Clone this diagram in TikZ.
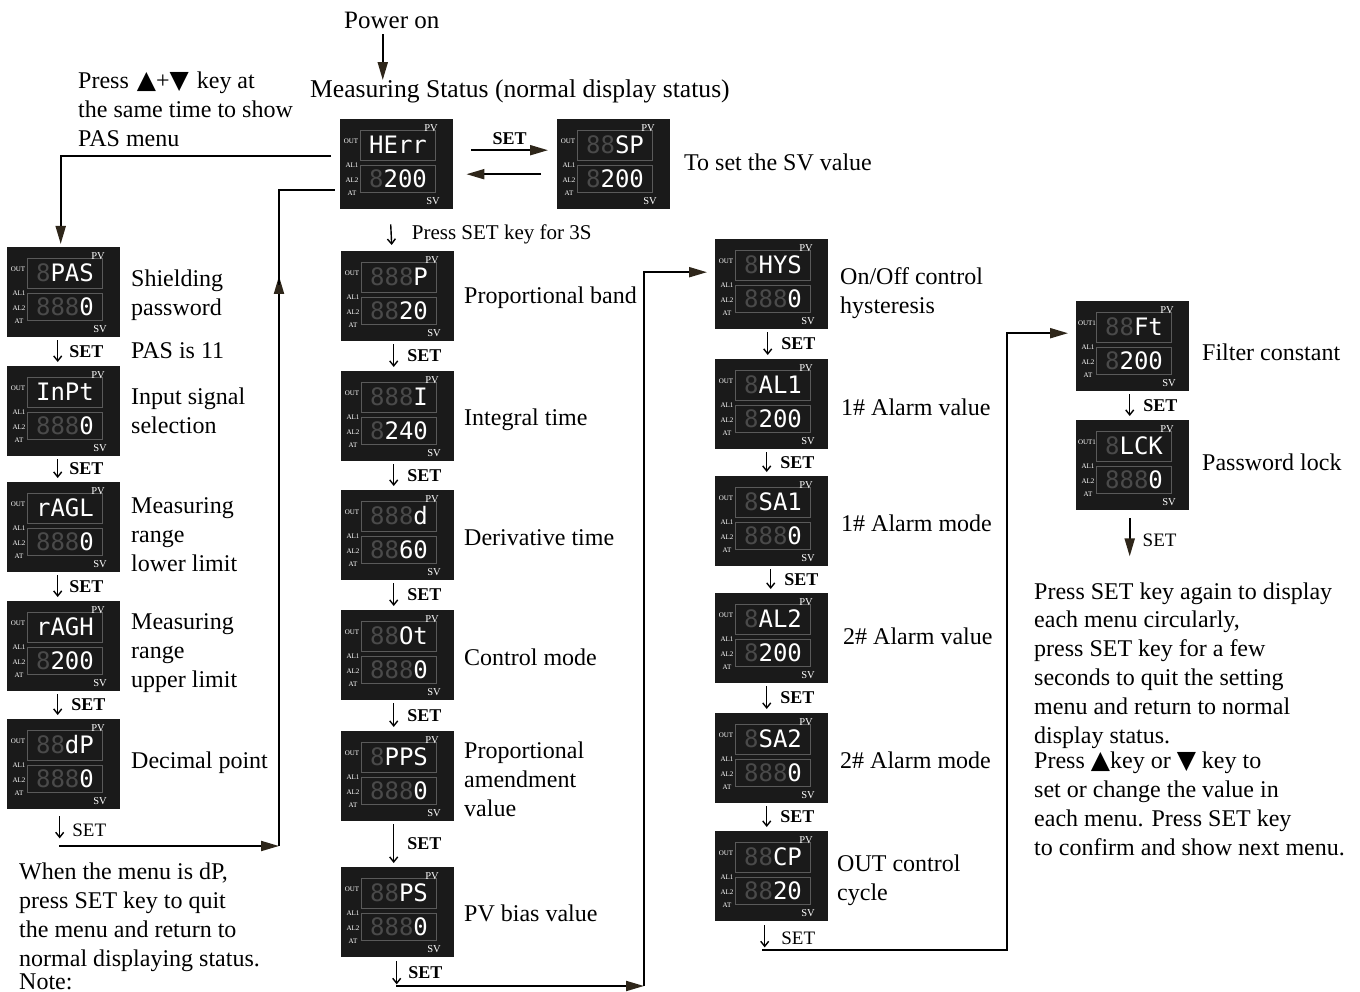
\documentclass[tikz,border=0pt]{standalone}
\usepackage{fontspec}
\setmainfont{Liberation Serif}
\newfontfamily\symf{DejaVu Sans}
\newfontfamily\segf{DejaVu Sans Mono}
\usetikzlibrary{arrows.meta}
\definecolor{dimc}{HTML}{4A4A4A}
\definecolor{boxc}{HTML}{1A1A1A}
\definecolor{framec}{HTML}{5A5A5A}
\definecolor{tipc}{HTML}{2E261A}
\newcommand\dm[1]{\textcolor{dimc}{#1}}
\newcommand\tri[1]{{\symf\fontsize{25}{29}\selectfont #1}}
\tikzset{
 dispbox/.style={fill=boxc, minimum width=113pt, minimum height=90pt, inner sep=0pt, anchor=north west, draw=none},
 segframe/.style={draw=framec, line width=0.7pt},
 seg/.style={font=\segf\fontsize{24}{24}\selectfont, text=white, inner sep=0pt, text height=17pt, text depth=0pt},
 tinyl/.style={font=\fontsize{7}{7}\selectfont, text=white, inner sep=0pt},
 pvsv/.style={font=\fontsize{10.5}{10.5}\selectfont, text=white, inner sep=0pt},
 lab/.style={font=\fontsize{24}{29}\selectfont, align=left, anchor=base west, inner sep=0pt},
 setb/.style={font=\bfseries\fontsize{18}{18}\selectfont, inner sep=0pt},
 setr/.style={font=\fontsize{19}{19}\selectfont, inner sep=0pt},
 conn/.style={line width=2pt, draw=black},
 big/.style={conn, -{Triangle[length=18pt,width=10pt,color=tipc]}},
 sm/.style={line width=1.4pt, -{Straight Barb[length=5pt,width=8pt]}},
}
% display box: [out label]{name}{x}{y}{top}{bottom}
\newcommand\disp[6][OUT]{%
 \node[dispbox] (#2) at (#3,#4) {};
 \begin{scope}[shift={(#2.north west)}]
  \draw[segframe] (20,11) rectangle (95,41);
  \draw[segframe] (20,46) rectangle (95,73);
  \node[tinyl] (#2-o) at (11,22) {#1};
  \node[tinyl] (#2-a1) at (12,46) {AL1};
  \node[tinyl] (#2-a2) at (12,61) {AL2};
  \node[tinyl] (#2-at) at (12,74) {AT};
  \node[pvsv] (#2-pv) at (91,9) {PV};
  \node[pvsv] (#2-sv) at (93,82) {SV};
  \node[seg] (#2-t) at (58,26) {#5};
  \node[seg] (#2-b) at (58,60) {#6};
 \end{scope}}
% SET arrow between boxes: {from}{to}{xoff}{labelname}{labelstyle}{labeloffset}
\newcommand\setarrow[6]{%
 \draw[sm] ([xshift=#3,yshift=-3pt]#1.south) -- ([xshift=#3,yshift=4pt]#2.north)
   node[midway, #5, anchor=west, xshift=#6] (#4) {SET};}
\begin{document}
\begin{tikzpicture}[x=1pt,y=-1pt]
\useasboundingbox (0,0) rectangle (1360,992);

% ---------- displays ----------
\disp{HErr}{340}{119}{HErr}{\dm{8}200}
\disp{SP}{557}{119}{\dm{88}SP}{\dm{8}200}

\disp{PAS}{7}{247}{\dm{8}PAS}{\dm{888}0}
\disp{InPt}{7}{366}{InPt}{\dm{888}0}
\disp{rAGL}{7}{482}{rAGL}{\dm{888}0}
\disp{rAGH}{7}{601}{rAGH}{\dm{8}200}
\disp{dP}{7}{719}{\dm{88}dP}{\dm{888}0}

\disp{Pb}{341}{251}{\dm{888}P}{\dm{88}20}
\disp{It}{341}{371}{\dm{888}I}{\dm{8}240}
\disp{Dt}{341}{490}{\dm{888}d}{\dm{88}60}
\disp{Ot}{341}{610}{\dm{88}Ot}{\dm{888}0}
\disp{PPS}{341}{731}{\dm{8}PPS}{\dm{888}0}
\disp{PS}{341}{867}{\dm{88}PS}{\dm{888}0}

\disp{HYS}{715}{239}{\dm{8}HYS}{\dm{888}0}
\disp{ALa}{715}{359}{\dm{8}AL1}{\dm{8}200}
\disp{SAa}{715}{476}{\dm{8}SA1}{\dm{888}0}
\disp{ALb}{715}{593}{\dm{8}AL2}{\dm{8}200}
\disp{SAb}{715}{713}{\dm{8}SA2}{\dm{888}0}
\disp{CP}{715}{831}{\dm{88}CP}{\dm{88}20}

\disp[OUT1]{Ft}{1076}{301}{\dm{88}Ft}{\dm{8}200}
\disp[OUT1]{LCK}{1076}{420}{\dm{8}LCK}{\dm{888}0}

% ---------- texts (base = baseline of last line) ----------
\node[lab, font=\fontsize{25}{29}\selectfont] (pwr) at (344,29) {Power on};
\node[lab, font=\fontsize{25.6}{29}\selectfont] (meas) at (310,98) {Measuring Status (normal display status)};
\node[lab] (press) at (78,147) {Press\hspace{8pt}\tri{▲}+\tri{▼}\hspace{8pt}key at\\the same time to show\\PAS menu};
\node[lab] (svtxt) at (684,171) {To set the SV value};

\node[lab] (l1) at (131,316) {Shielding\\password};
\node[lab] (l1b) at (131,359) {PAS is 11};
\node[lab] (l2) at (131,433) {Input signal\\selection};
\node[lab] (l3) at (131,571) {Measuring\\range\\lower limit};
\node[lab] (l4) at (131,687) {Measuring\\range\\upper limit};
\node[lab] (l5) at (131,768) {Decimal point};

\node[lab] (m1) at (464,304) {Proportional band};
\node[lab] (m2) at (464,425) {Integral time};
\node[lab] (m3) at (464,545) {Derivative time};
\node[lab] (m4) at (464,665) {Control mode};
\node[lab] (m5) at (464,816) {Proportional\\amendment\\value};
\node[lab] (m6) at (464,921) {PV bias value};

\node[lab] (n1) at (840,314) {On/Off control\\hysteresis};
\node[lab] (n2) at (841,415) {1\# Alarm value};
\node[lab] (n3) at (841,531) {1\# Alarm mode};
\node[lab] (n4) at (843,644) {2\# Alarm value};
\node[lab] (n5) at (840,768) {2\# Alarm mode};
\node[lab] (n6) at (837,900) {OUT control\\cycle};

\node[lab] (k1) at (1202,360) {Filter constant};
\node[lab] (k2) at (1202,470) {Password lock};

\node[lab] (quit) at (19,966) {When the menu is dP,\\press SET key to quit\\the menu and return to\\normal displaying status.};
\node[lab] (notel) at (19,989) {Note:};

\node[lab, font=\fontsize{24}{28.8}\selectfont] (rt1) at (1034,743) {Press SET key again to display\\each menu circularly,\\press SET key for a few\\seconds to quit the setting\\menu and return to normal\\display status.};
\node[lab, font=\fontsize{24}{28.7}\selectfont] (rt2) at (1034,855) {Press \tri{▲}key or \tri{▼} key to\\set or change the value in\\each menu. Press SET key\\to confirm and show next menu.};

% ---------- connectors ----------
\draw[big] ([xshift=-9pt,yshift=-5pt]pwr.south) -- ([xshift=-9pt]pwr.south |- meas.north);

\draw[big] ([xshift=18pt,yshift=14pt]HErr.east) -- ([xshift=-9pt,yshift=14pt]SP.west)
  node[midway, above, setb, yshift=5pt] (s0) {SET};
\draw[big] ([xshift=-16pt,yshift=-10pt]SP.west) -- ([xshift=13pt,yshift=-10pt]HErr.east);

\draw[big] ([xshift=-9pt,yshift=8pt]HErr.west) -| ([xshift=-3pt,yshift=3pt]PAS.north);

\setarrow{PAS}{InPt}{-6pt}{s1}{setb}{11pt}
\setarrow{InPt}{rAGL}{-6pt}{s2}{setb}{11pt}
\setarrow{rAGL}{rAGH}{-6pt}{s3}{setb}{11pt}
\setarrow{rAGH}{dP}{-6pt}{s4}{setb}{13pt}
\draw[sm] ([xshift=-4pt,yshift=-7pt]dP.south) -- ++(0,22)
  node[midway, setr, anchor=west, xshift=12pt, yshift=-3pt] (s5) {SET};

\coordinate (p1) at (59,846);
\coordinate (p2) at (279,846);
\coordinate (p3) at (279,276);
\coordinate (p4) at (279,285);
\draw[big] (p1) -- (p2);
\draw[big] (p2) -- (p3);
\draw[conn] (p4) |- ([xshift=-5pt,yshift=-26pt]HErr.west);

\draw[sm] ([xshift=-6pt,yshift=-15pt]HErr.south) -- ([xshift=-6pt,yshift=6pt]Pb.north)
  node[midway, anchor=west, xshift=20pt, font=\fontsize{21}{21}\selectfont, inner sep=0pt] (s3s) {Press SET key for 3S};
\setarrow{Pb}{It}{-4pt}{t1}{setb}{13pt}
\setarrow{It}{Dt}{-4pt}{t2}{setb}{13pt}
\setarrow{Dt}{Ot}{-4pt}{t3}{setb}{13pt}
\setarrow{Ot}{PPS}{-4pt}{t4}{setb}{13pt}
\setarrow{PPS}{PS}{-4pt}{t5}{setb}{13pt}
\draw[sm] ([xshift=-1pt,yshift=-4pt]PS.south) -- ++(0,23)
  node[midway, setb, anchor=west, xshift=11pt] (t6) {SET};

\coordinate (q1) at (396,986);
\coordinate (q2) at (644,986);
\draw[big] (q1) -- (q2);
\draw[big] (q2) |- ([xshift=-8pt,yshift=12pt]HYS.west);

\setarrow{HYS}{ALa}{-4pt}{u1}{setb}{13pt}
\setarrow{ALa}{SAa}{-5pt}{u2}{setb}{13pt}
\setarrow{SAa}{ALb}{-1pt}{u3}{setb}{13pt}
\setarrow{ALb}{SAb}{-5pt}{u4}{setb}{13pt}
\setarrow{SAb}{CP}{-5pt}{u5}{setb}{13pt}
\draw[sm] ([xshift=-7pt,yshift=-4pt]CP.south) -- ++(0,22)
  node[midway, setr, anchor=west, xshift=16pt, yshift=-2pt] (u6) {SET};

\coordinate (r1) at (762,950);
\coordinate (r2) at (1007,950);
\draw[big] (r1) -- (r2) |- ([xshift=-8pt,yshift=13pt]Ft.west);

\setarrow{Ft}{LCK}{-3pt}{v1}{setb}{13pt}
\draw[big] ([xshift=-3pt,yshift=-8pt]LCK.south) -- ++(0,38)
  node[midway, setr, anchor=west, xshift=12pt, yshift=-3pt] (v2) {SET};
\end{tikzpicture}
\end{document}
